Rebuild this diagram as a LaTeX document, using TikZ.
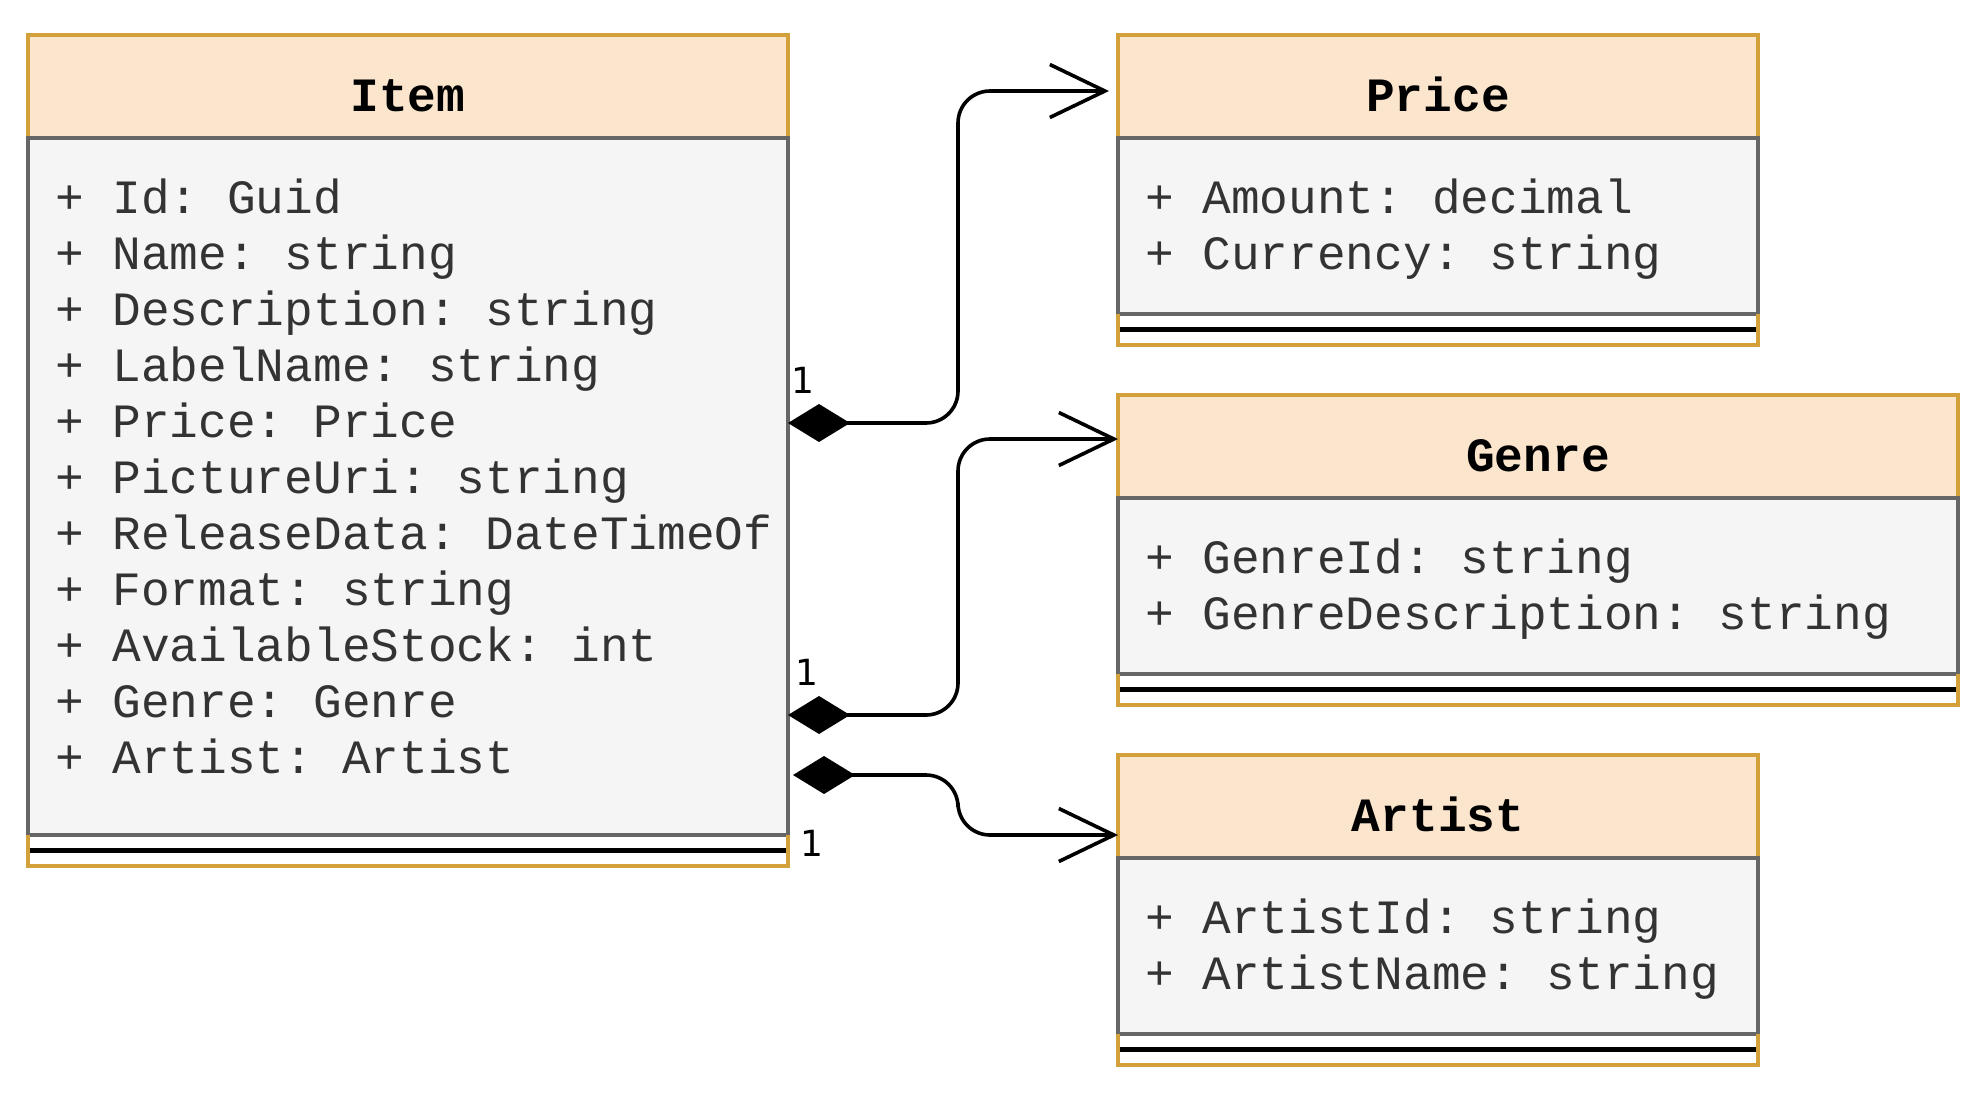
\documentclass[tikz,border=0pt]{standalone}
\usepackage{fontspec}
\setmainfont{DejaVu Sans}
\setmonofont{Liberation Mono}
\usetikzlibrary{arrows.meta}
\usetikzlibrary{positioning}
\usetikzlibrary{calc}

\definecolor{headfill}{HTML}{FBE6CD}
\definecolor{headline}{HTML}{D4A03A}
\definecolor{bodyfill}{HTML}{F5F5F5}
\definecolor{bodyline}{HTML}{666666}
\definecolor{bodytext}{HTML}{333333}

\tikzset{
  classhead/.style={draw=headline, fill=headfill, line width=3.5pt, outer sep=0pt, inner sep=0pt,
    anchor=north west, minimum height=103pt, text height=60pt, text depth=11pt,
    font=\fontsize{47.8}{56}\selectfont\ttfamily\bfseries},
  classbody/.style={draw=bodyline, fill=bodyfill, line width=3.5pt, outer sep=0pt, inner sep=0pt,
    anchor=north west, minimum height=176pt},
  classfoot/.style={outer sep=0pt, inner sep=0pt, anchor=north west, minimum height=31pt},
  attr/.style={anchor=base west, inner sep=0pt, text=bodytext, font=\fontsize{47.8}{56}\selectfont\ttfamily},
  footline/.style={headline, line width=3.5pt},
  sepline/.style={black, line width=4.5pt, shorten <=1.75pt, shorten >=1.75pt},
  compose/.style={line width=3.6pt, rounded corners=32pt,
    arrows={Diamond[length=62pt,width=38pt]-Straight Barb[length=55pt,width=53pt]}},
  mult/.style={inner sep=0pt, font=\fontsize{36}{40}\selectfont},
}

\begin{document}
\begin{tikzpicture}[x=1pt, y=-1pt]
\useasboundingbox (0,0) rectangle (1983,1093);

% Item
\node[classhead, minimum width=760pt] (itemhead) at (28,35) {Item};
\node[classbody, minimum width=760pt, minimum height=697pt] (itembody) at (itemhead.south west) {};
\node[classfoot, minimum width=760pt] (itemfoot) at (itembody.south west) {};
\draw[footline] (itemfoot.north west) |- (itemfoot.south east) -- (itemfoot.north east);
\draw[sepline] (itemfoot.west) -- (itemfoot.east);
\foreach \a [count=\i from 0] in {+ Id: Guid, + Name: string, + Description: string,
    + LabelName: string, + Price: Price, + PictureUri: string, + ReleaseData: DateTimeOf,
    + Format: string, + AvailableStock: int, + Genre: Genre, + Artist: Artist} {
  \node[attr] (itemattr\i) at ($(itembody.north west)+(27,75+56*\i)$) {\a};
}

% Price
\node[classhead, minimum width=640pt] (pricehead) at (1118,35) {Price};
\node[classbody, minimum width=640pt] (pricebody) at (pricehead.south west) {};
\node[classfoot, minimum width=640pt] (pricefoot) at (pricebody.south west) {};
\draw[footline] (pricefoot.north west) |- (pricefoot.south east) -- (pricefoot.north east);
\draw[sepline] (pricefoot.west) -- (pricefoot.east);
\foreach \a [count=\i from 0] in {+ Amount: decimal, + Currency: string} {
  \node[attr] (priceattr\i) at ($(pricebody.north west)+(27,75+56*\i)$) {\a};
}

% Genre
\node[classhead, minimum width=840pt] (genrehead) at (1118,395) {Genre};
\node[classbody, minimum width=840pt] (genrebody) at (genrehead.south west) {};
\node[classfoot, minimum width=840pt] (genrefoot) at (genrebody.south west) {};
\draw[footline] (genrefoot.north west) |- (genrefoot.south east) -- (genrefoot.north east);
\draw[sepline] (genrefoot.west) -- (genrefoot.east);
\foreach \a [count=\i from 0] in {+ GenreId: string, + GenreDescription: string} {
  \node[attr] (genreattr\i) at ($(genrebody.north west)+(27,75+56*\i)$) {\a};
}

% Artist
\node[classhead, minimum width=640pt] (artisthead) at (1118,755) {Artist};
\node[classbody, minimum width=640pt] (artistbody) at (artisthead.south west) {};
\node[classfoot, minimum width=640pt] (artistfoot) at (artistbody.south west) {};
\draw[footline] (artistfoot.north west) |- (artistfoot.south east) -- (artistfoot.north east);
\draw[sepline] (artistfoot.west) -- (artistfoot.east);
\foreach \a [count=\i from 0] in {+ ArtistId: string, + ArtistName: string} {
  \node[attr] (artistattr\i) at ($(artistbody.north west)+(27,75+56*\i)$) {\a};
}

% compositions
\coordinate (pricesrc) at ($(itembody.north east)+(0,285)$);
\coordinate (pricedst) at ($(pricehead.north west)+(-9,56)$);
\coordinate (genresrc) at ($(itembody.north east)+(0,577)$);
\coordinate (genredst) at ($(genrehead.north west)+(0,44)$);
\coordinate (artistsrc) at ($(itembody.north east)+(5,637)$);
\coordinate (artistdst) at ($(artisthead.north west)+(0,80)$);

\draw[compose] (pricesrc) -- ++(170,0) |- (pricedst);
\draw[compose] (genresrc) -- ++(170,0) |- (genredst);
\draw[compose] (artistsrc) -- ++(165,0) |- (artistdst);

\node[mult] (pricemult) at ($(pricesrc)+(15,-43)$) {1};
\node[mult] (genremult) at ($(genresrc)+(19,-43)$) {1};
\node[mult] (artistmult) at ($(artistsrc)+(19,68)$) {1};
\end{tikzpicture}
\end{document}
